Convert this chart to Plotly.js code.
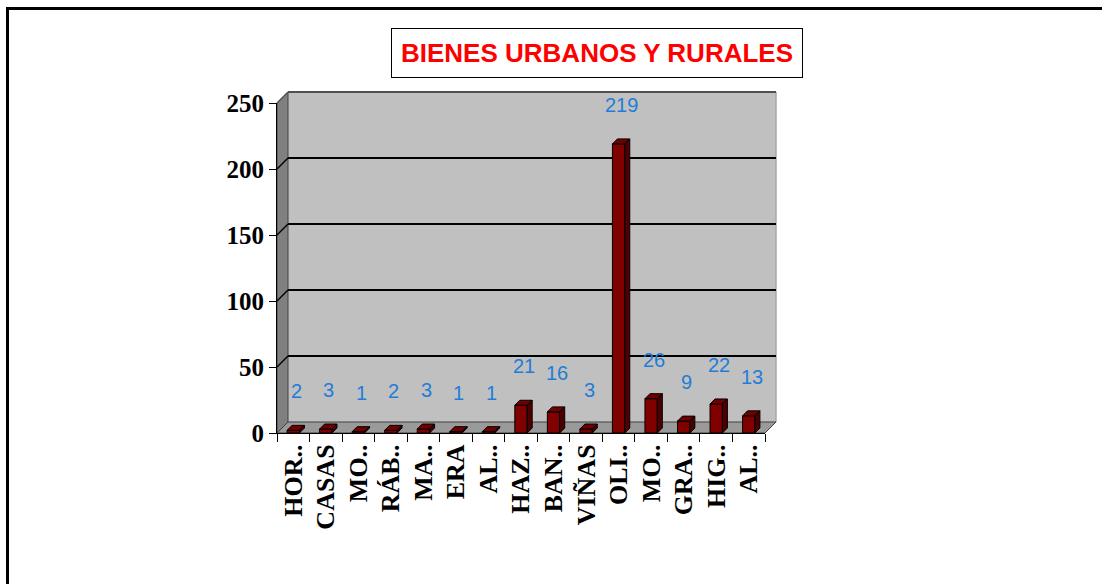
<!DOCTYPE html>
<html>
<head>
<meta charset="utf-8">
<script src="https://cdn.plot.ly/plotly-3.0.1.min.js"></script>
<style>
  html, body { margin: 0; padding: 0; background: #ffffff; }
  #chart { width: 1102px; height: 584px; }
</style>
</head>
<body>
<div id="chart"></div>
<script>
// ---- data ----
const categories = ["HOR..", "CASAS", "MO..", "RÁB..", "MA..", "ERA", "AL..", "HAZ..", "BAN..", "VIÑAS", "OLI..", "MO..", "GRA..", "HIG..", "AL.."];
const values = [2, 3, 1, 2, 3, 1, 1, 21, 16, 3, 219, 26, 9, 22, 13];
const yTicks = [0, 50, 100, 150, 200, 250];
const chartTitle = "BIENES URBANOS Y RURALES";

// ---- geometry (pixels) ----
const W = 1102, H = 584;
const L = 277, R = 765, T = 103, B = 433;
const plotW = R - L, plotH = B - T;
const yMax = 250;
const wallOff = 11;     // back wall offset in px
const barDepth = 5;     // bar depth in px
const barW = 0.38;

const px = x => (x - L) / plotW;          // pixel x -> paper
const py = y => (B - y) / plotH;          // pixel y -> paper
const wx = wallOff / plotW, wy = wallOff / plotH;

const idx = categories.map((_, i) => i);
const dxU = barDepth / (plotW / categories.length);
const dyU = barDepth / (plotH / yMax);

// 3D faces of bars (computed from data)
const topX = [], topY = [], sideX = [], sideY = [];
values.forEach((v, i) => {
  const x0 = i - barW / 2, x1 = i + barW / 2;
  topX.push(x0, x1, x1 + dxU, x0 + dxU, x0, null);
  topY.push(v, v, v + dyU, v + dyU, v, null);
  sideX.push(x1, x1 + dxU, x1 + dxU, x1, x1, null);
  sideY.push(0, dyU, v + dyU, v, 0, null);
});

const traces = [
  {
    type: "bar", x: idx, y: values, width: barW,
    marker: { color: "#800000", line: { color: "#000000", width: 1 } },
    hoverinfo: "skip"
  },
  {
    type: "scatter", mode: "lines", x: topX, y: topY, fill: "toself",
    fillcolor: "#6e0000", line: { color: "#000000", width: 1 },
    hoverinfo: "skip", connectgaps: false
  },
  {
    type: "scatter", mode: "lines", x: sideX, y: sideY, fill: "toself",
    fillcolor: "#4e0000", line: { color: "#000000", width: 1 },
    hoverinfo: "skip", connectgaps: false
  }
];

const shapes = [];
// back wall
shapes.push({ type: "rect", xref: "paper", yref: "paper", x0: wx, x1: 1 + wx, y0: wy, y1: 1 + wy,
  fillcolor: "#c0c0c0", line: { width: 0 }, layer: "below" });
// right edge of wall
shapes.push({ type: "line", xref: "paper", yref: "paper", x0: 1 + wx, x1: 1 + wx, y0: wy, y1: 1 + wy,
  line: { color: "#a8a8a8", width: 1.5 }, layer: "below" });
// left side wall
shapes.push({ type: "path", xref: "paper", yref: "paper",
  path: `M 0 0 L 0 1 L ${wx} ${1 + wy} L ${wx} ${wy} Z`,
  fillcolor: "#808080", line: { color: "#404040", width: 1 }, layer: "below" });
// floor
shapes.push({ type: "path", xref: "paper", yref: "paper",
  path: `M 0 0 L 1 0 L ${1 + wx} ${wy} L ${wx} ${wy} Z`,
  fillcolor: "#9a9a9a", line: { color: "#404040", width: 1 }, layer: "below" });
// gridlines on wall and side wall
yTicks.filter(v => v > 0).forEach(v => {
  const f = v / yMax;
  const col = v === yMax ? "#505050" : "#000000";
  shapes.push({ type: "line", xref: "paper", yref: "paper", x0: wx, x1: 1 + wx, y0: f + wy, y1: f + wy,
    line: { color: col, width: 2 }, layer: "below" });
  shapes.push({ type: "line", xref: "paper", yref: "paper", x0: 0, x1: wx, y0: f, y1: f + wy,
    line: { color: col, width: 1.5 }, layer: "below" });
});
// outer page border (top and left)
shapes.push({ type: "line", xref: "paper", yref: "paper", x0: px(6), x1: px(W + 5), y0: py(8.5), y1: py(8.5),
  line: { color: "#000000", width: 3 } });
shapes.push({ type: "line", xref: "paper", yref: "paper", x0: px(7.5), x1: px(7.5), y0: py(7), y1: py(H + 5),
  line: { color: "#000000", width: 3 } });

const annotations = [];
// title box
annotations.push({
  xref: "paper", yref: "paper", x: px(597), y: py(53), xanchor: "center", yanchor: "middle",
  text: chartTitle, showarrow: false,
  font: { family: "Liberation Sans, Arial, sans-serif", size: 26, color: "#ff0000", weight: "bold" },
  bgcolor: "#ffffff", bordercolor: "#000000", borderwidth: 1, borderpad: 9
});
// data labels
values.forEach((v, i) => {
  annotations.push({
    x: i, y: v, xref: "x", yref: "y", text: String(v), showarrow: false,
    xanchor: "center", yanchor: "bottom", yshift: 26, xshift: 3,
    font: { family: "Liberation Sans, Arial, sans-serif", size: 20, color: "#1f7dd6" }
  });
});

const layout = {
  width: W, height: H,
  margin: { l: L, r: W - R, t: T, b: H - B, pad: 0 },
  paper_bgcolor: "#ffffff", plot_bgcolor: "rgba(0,0,0,0)",
  showlegend: false,
  xaxis: {
    range: [-0.5, categories.length - 0.5],
    tickmode: "array", tickvals: idx, ticktext: categories,
    ticks: "", tickangle: -90,
    minor: { tick0: -0.5, dtick: 1, ticks: "outside", ticklen: 8, tickcolor: "#000000", tickwidth: 1, showgrid: false },
    showline: true, linecolor: "#000000", linewidth: 1,
    showgrid: false, zeroline: false, fixedrange: true,
    tickfont: { family: "Liberation Serif, Times New Roman, serif", size: 26, color: "#000000", weight: "bold" }
  },
  yaxis: {
    range: [0, yMax], tickmode: "array", tickvals: yTicks,
    ticks: "outside", ticklen: 7, tickcolor: "#000000", tickwidth: 1,
    showline: true, linecolor: "#000000", linewidth: 1,
    showgrid: false, zeroline: false, fixedrange: true,
    tickfont: { family: "Liberation Serif, Times New Roman, serif", size: 25, color: "#000000", weight: "bold" }
  },
  bargap: 0,
  shapes: shapes,
  annotations: annotations
};

Plotly.newPlot("chart", traces, layout, { displayModeBar: false, staticPlot: true });
</script>
</body>
</html>
